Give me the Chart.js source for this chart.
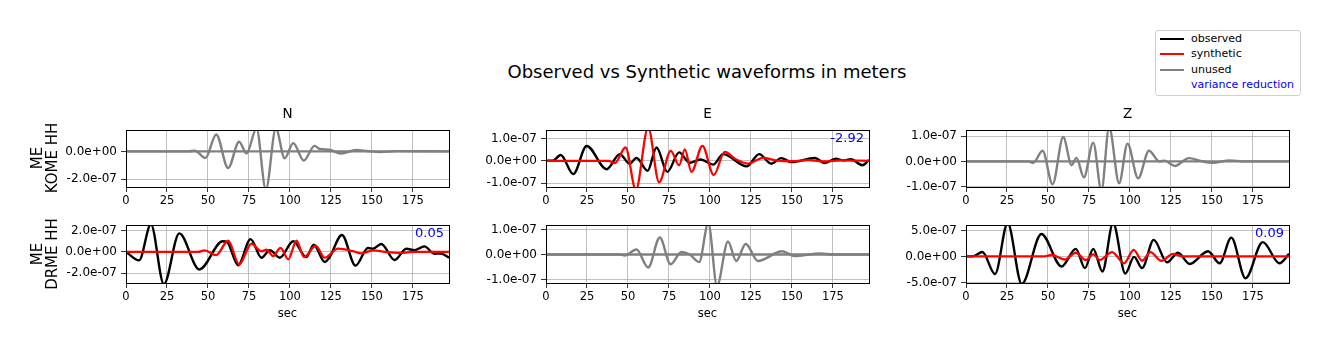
<!DOCTYPE html>
<html>
<head>
<meta charset="utf-8">
<script src="https://cdn.jsdelivr.net/npm/chart.js@4.4.1/dist/chart.umd.min.js"></script>
<style>
  body { margin: 0; background: #fff; font-family: "DejaVu Sans", sans-serif; }
  #fig { position: relative; width: 1329px; height: 351px; overflow: hidden; }
  canvas { position: absolute; }
  .txt { position: absolute; white-space: nowrap; color: #000; }
  .ylab { position: absolute; font-size: 15px; line-height: 15px; text-align: center; transform: rotate(-90deg); transform-origin: center center; white-space: nowrap; }
  #legend { position: absolute; left: 1155px; top: 30px; width: 144px; height: 64px; border: 1px solid #d0d0d0; border-radius: 3px; background: rgba(255,255,255,0.8); font-size: 11px; white-space: nowrap; }
  #legend .row { position: absolute; left: 0; height: 14px; }
  #legend .ln { position: absolute; left: 4px; width: 24px; height: 2px; top: 6px; }
  #legend .lt { position: absolute; left: 35px; top: 0; line-height: 14px; white-space: nowrap; }
</style>
</head>
<body>
<div id="fig">
  <div class="txt" style="left:207px;width:1000px;text-align:center;top:61px;font-size:18px;">Observed vs Synthetic waveforms in meters</div>
  <div id="legend">
    <div class="row" style="top:1px"><div class="ln" style="background:#000"></div><div class="lt">observed</div></div>
    <div class="row" style="top:16px"><div class="ln" style="background:#ff0000"></div><div class="lt">synthetic</div></div>
    <div class="row" style="top:32px"><div class="ln" style="background:#808080"></div><div class="lt">unused</div></div>
    <div class="row" style="top:47px"><div class="lt" style="color:#0000ff">variance reduction</div></div>
  </div>
</div>
<script>
// x axis (sec)
const xTicks = [0, 25, 50, 75, 100, 125, 150, 175];
const xMax = 197;
const UNIT = 1e-7; // trace values below are in units of 1e-7 m

// components and stations
const components = ['N', 'E', 'Z'];
const stations = ['ME\nKOME HH', 'ME\nDRME HH'];

// KOME N (unused)
const komeNTime = [0, 38, 42, 48.5, 55, 62.3, 69, 73.5, 79.6, 85.3, 91.4, 96.8, 102, 108.4, 115, 118, 124, 131, 140.5, 147, 155, 165, 197];
const komeNObs  = [0, 0, 0.05, -0.47, 1.22, -1.2, 0.7, -0.15, 1.65, -2.75, 1.65, -0.5, 0.6, -0.66, 0.4, 0.18, 0.12, -0.15, 0.1, 0.03, -0.05, 0.02, 0];
const komeNSynTime = [0, 197];
const komeNSyn     = [0, 0];

// DRME N
const drmeNTime = [0, 8, 15.2, 23.1, 32.5, 44.7, 59, 61.5, 68.4, 76, 82.6, 87.7, 93.8, 102, 110, 114.5, 121.2, 124, 131.7, 140, 147.6, 150.6, 155.7, 163.8, 171, 176, 182, 188, 192, 197];
const drmeNObs  = [0, -0.8, 2.6, -3.05, 1.75, -1.66, 1.0, 0.95, -1.26, 1.2, -0.55, 0.15, -0.55, 1.0, -0.5, 0.68, -0.95, -0.55, 1.6, -1.3, 0.37, 0.3, 0.74, -0.77, 0.3, 0.15, 0.52, -0.18, -0.15, -0.55];
const drmeNSynTime = [0, 44, 48, 55, 62.3, 69, 76.5, 82.6, 85.7, 89.7, 94.2, 99, 104, 108.6, 115.7, 121.2, 129.3, 138.5, 143.5, 150.6, 158, 168, 175, 197];
const drmeNSyn     = [0, 0, 0.15, -0.3, 1.05, -1.17, 0.77, 0.05, 0.2, -0.4, 0.37, -0.7, 1.05, -0.5, 0.58, -0.55, 0.3, 0.06, -0.15, 0.15, 0, -0.1, 0, 0];

// KOME E
const komeETime = [0, 4, 9, 16.6, 24.8, 37, 45, 51, 55.2, 62, 67.4, 74, 81.2, 87.7, 94.2, 102, 108, 122.4, 130, 137.5, 143.5, 149.6, 164, 170, 177, 181, 186, 193, 197];
const komeEObs  = [0, 0, 0.26, -0.6, 0.67, -0.38, 0.3, -0.13, 0.13, -0.45, 0.6, -0.5, 0.38, -0.09, 0.06, -0.17, 0.3, -0.25, 0.3, -0.13, 0.12, -0.06, 0.13, -0.1, 0.1, 0.02, 0.07, -0.2, 0.04];
const komeESynTime = [0, 38, 42, 48.5, 54.8, 62.3, 69, 76.1, 81.2, 84.7, 88.7, 95.4, 102.3, 109, 116, 123.2, 132.4, 140, 150, 160, 170, 180, 197];
const komeESyn     = [0, 0, -0.1, 0.6, -1.3, 1.5, -0.97, 0.45, -0.2, 0.52, -0.5, 0.67, -0.64, 0.4, 0.06, -0.13, 0.13, 0.02, -0.02, 0.03, -0.03, 0.02, 0];

// DRME E (unused)
const drmeETime = [0, 45, 48, 55.2, 62.3, 69.4, 76, 82.6, 87.7, 93.4, 99, 104.3, 111, 116, 121.8, 129.3, 144, 151.6, 167, 175, 197];
const drmeEObs  = [0, 0, -0.04, 0.2, -0.52, 0.68, -0.39, 0.1, 0, -0.3, 1.25, -1.25, 0.52, -0.26, 0.42, -0.26, 0.13, -0.06, 0.04, 0, 0];
const drmeESynTime = [0, 197];
const drmeESyn     = [0, 0];

// KOME Z (unused)
const komeZTime = [0, 38, 41, 46.7, 52.8, 59.3, 64.4, 67.4, 71.9, 77.6, 82.6, 87.3, 93.4, 98.5, 105, 111.6, 118, 121, 127.3, 136, 143, 150.6, 160.8, 170, 197];
const komeZObs  = [0, 0, -0.06, 0.42, -0.9, 0.96, -0.15, 0.14, -0.63, 0.74, -1.15, 1.35, -0.86, 0.7, -0.67, 0.42, 0, 0.03, -0.18, 0.13, 0.02, -0.06, 0.04, 0, 0];
const komeZSynTime = [0, 197];
const komeZSyn     = [0, 0];

// DRME Z
const drmeZTime = [0, 4, 10, 17.7, 25.4, 34, 46, 58.3, 67, 72.5, 77.6, 83.2, 89.7, 97.2, 102.5, 107.4, 114.5, 122.6, 129.3, 136.4, 147.6, 154.7, 161.8, 170.5, 181, 191.2, 197];
const drmeZObs  = [0.1, 0.1, 0.93, -3.3, 6.5, -5.2, 4.4, -1.85, 1.55, -2.15, 1.55, -2.8, 6.5, -3.2, 0, -2.15, 3.27, -1.05, 0.8, -1.36, 1.1, -1.23, 3.7, -4.1, 2.84, -1.23, 0.6];
const drmeZSynTime = [0, 48, 52.2, 60.3, 67, 73, 77.6, 81.6, 89.1, 96.4, 102.3, 107.4, 112.5, 119.2, 126.3, 132, 140, 197];
const drmeZSyn     = [0.1, 0.1, 0.37, -0.5, 0.8, -0.6, 0.5, -0.6, 0.93, -1.23, 1.36, -0.74, 0.93, -0.74, 0.6, 0.1, 0.1, 0.1];

// y ranges (m) and ticks
const yLimits = [
  [[-2.57e-7, 1.53e-7], [-1.18e-7, 1.38e-7], [-1.01e-7, 1.23e-7]],
  [[-2.94e-7, 2.52e-7], [-1.14e-7, 1.17e-7], [-5.02e-7, 6.1e-7]]
];
const yTicks = [
  [[-2e-7, 0], [-1e-7, 0, 1e-7], [-1e-7, 0, 1e-7]],
  [[-2e-7, 0, 2e-7], [-1e-7, 0, 1e-7], [-5e-7, 0, 5e-7]]
];
// variance reduction ('' = unused)
const varRed = [['', '-2.92', ''], ['0.05', '', '0.09']];

const traces = [
  [
    { obs: [komeNTime, komeNObs], syn: [komeNSynTime, komeNSyn], used: false },
    { obs: [komeETime, komeEObs], syn: [komeESynTime, komeESyn], used: true },
    { obs: [komeZTime, komeZObs], syn: [komeZSynTime, komeZSyn], used: false }
  ],
  [
    { obs: [drmeNTime, drmeNObs], syn: [drmeNSynTime, drmeNSyn], used: true },
    { obs: [drmeETime, drmeEObs], syn: [drmeESynTime, drmeESyn], used: false },
    { obs: [drmeZTime, drmeZObs], syn: [drmeZSynTime, drmeZSyn], used: true }
  ]
];

const colLeft = [126, 546, 966];
const plotW = 323;
const rowTop = [129, 224];
const rowH = [58, 59];
const AX_W = 100, PAD = 10, XAX_H = 30;

function sci(v) {
  if (v === 0) return '0.0e+00';
  const e = Math.floor(Math.log10(Math.abs(v)) + 1e-9);
  const m = v / Math.pow(10, e);
  return m.toFixed(1) + 'e' + (e < 0 ? '-' : '+') + String(Math.abs(e)).padStart(2, '0');
}

function toPts(t, v) {
  return t.map((x, i) => ({ x: x, y: v[i] * UNIT }));
}

// spines on top of everything
const framePlugin = {
  id: 'frame',
  afterDatasetsDraw(chart) {
    const a = chart.chartArea, ctx = chart.ctx;
    ctx.save();
    ctx.strokeStyle = '#000';
    ctx.lineWidth = 1;
    ctx.strokeRect(Math.round(a.left) + 0.5, Math.round(a.top) + 0.5, Math.round(a.right - a.left), Math.round(a.bottom - a.top));
    ctx.restore();
  }
};

const fig = document.getElementById('fig');

function addText(txt, css) {
  const d = document.createElement('div');
  d.className = 'txt';
  d.textContent = txt;
  Object.assign(d.style, css);
  fig.appendChild(d);
  return d;
}

for (let r = 0; r < 2; r++) {
  for (let c = 0; c < 3; c++) {
    const cv = document.createElement('canvas');
    const w = AX_W + plotW + PAD, h = PAD + rowH[r] + XAX_H;
    cv.width = w; cv.height = h;
    cv.style.left = (colLeft[c] - AX_W) + 'px';
    cv.style.top = (rowTop[r] - PAD) + 'px';
    fig.appendChild(cv);

    const tr = traces[r][c];
    const obsColor = tr.used ? '#000000' : '#808080';
    const synColor = tr.used ? '#ff0000' : '#808080';
    const ticksY = yTicks[r][c];

    new Chart(cv.getContext('2d'), {
      type: 'line',
      data: {
        datasets: [
          { label: 'synthetic', data: toPts(tr.syn[0], tr.syn[1]), borderColor: synColor, borderWidth: 2.3, pointRadius: 0, cubicInterpolationMode: 'monotone' },
          { label: 'observed', data: toPts(tr.obs[0], tr.obs[1]), borderColor: obsColor, borderWidth: 2.4, pointRadius: 0, cubicInterpolationMode: 'monotone' }
        ]
      },
      options: {
        responsive: false,
        animation: false,
        devicePixelRatio: 1,
        layout: { padding: { left: 0, top: PAD, right: PAD, bottom: 0 } },
        plugins: { legend: { display: false }, tooltip: { enabled: false } },
        scales: {
          x: {
            type: 'linear', min: 0, max: xMax,
            afterBuildTicks: s => { s.ticks = xTicks.map(v => ({ value: v })); },
            afterFit: s => { s.height = XAX_H; },
            grid: { color: '#b0b0b0', lineWidth: 0.8, tickColor: '#000', tickLength: 5 },
            border: { display: false },
            ticks: { color: '#000', font: { family: 'DejaVu Sans', size: 11.5 }, padding: 2, maxRotation: 0, autoSkip: false }
          },
          y: {
            type: 'linear', min: yLimits[r][c][0], max: yLimits[r][c][1],
            afterBuildTicks: s => { s.ticks = ticksY.map(v => ({ value: v })); },
            afterFit: s => { s.width = AX_W; },
            grid: { color: '#b0b0b0', lineWidth: 0.8, tickColor: '#000', tickLength: 5 },
            border: { display: false },
            ticks: { color: '#000', font: { family: 'DejaVu Sans', size: 12 }, padding: 4, callback: v => sci(v) }
          }
        }
      },
      plugins: [framePlugin]
    });

    if (varRed[r][c]) {
      addText(varRed[r][c], { left: (colLeft[c] + plotW - 205) + 'px', width: '200px', textAlign: 'right', top: (rowTop[r] + 1) + 'px', fontSize: '13px', color: '#0000ff' });
    }
    if (r === 0) {
      addText(components[c], { left: colLeft[c] + 'px', width: plotW + 'px', textAlign: 'center', top: '105px', fontSize: '13.5px' });
    } else {
      addText('sec', { left: colLeft[c] + 'px', width: plotW + 'px', textAlign: 'center', top: '306px', fontSize: '11.5px' });
    }
  }
  // station label, rotated
  const yl = document.createElement('div');
  yl.className = 'ylab';
  yl.style.width = '120px';
  yl.style.height = '30px';
  yl.style.left = (45 - 60) + 'px';
  yl.style.top = (rowTop[r] + rowH[r] / 2 - 15) + 'px';
  yl.innerHTML = stations[r].split('\n').join('<br>');
  fig.appendChild(yl);
}
</script>
</body>
</html>
